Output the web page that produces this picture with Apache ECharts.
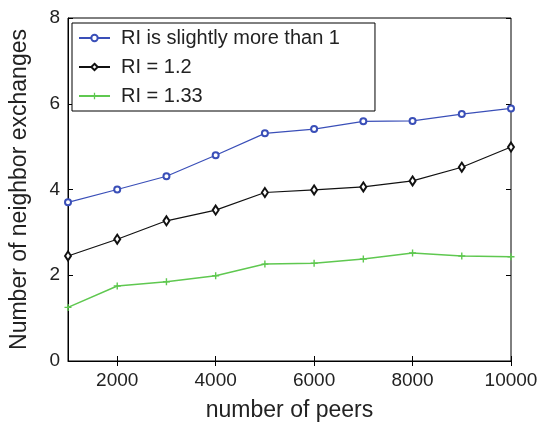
<!DOCTYPE html>
<html>
<head>
<meta charset="utf-8">
<script src="https://cdn.jsdelivr.net/npm/echarts@6/dist/echarts.min.js"></script>
<style>
  html, body { margin: 0; padding: 0; background: #fff; }
  #chart { width: 537px; height: 425px; }
</style>
</head>
<body>
<div id="chart"></div>
<script>
// data
const peers = [1000, 2000, 3000, 4000, 5000, 6000, 7000, 8000, 9000, 10000];
const riSlightly = [3.70, 4.00, 4.31, 4.80, 5.31, 5.41, 5.59, 5.60, 5.76, 5.89];
const ri12 = [2.45, 2.84, 3.27, 3.52, 3.93, 3.99, 4.06, 4.20, 4.52, 4.99];
const ri133 = [1.25, 1.75, 1.85, 1.99, 2.26, 2.28, 2.38, 2.52, 2.45, 2.43];
const xTicks = [2000, 4000, 6000, 8000, 10000];
const yTicks = [0, 2, 4, 6, 8];

const font = 'Liberation Sans, Arial, Helvetica, sans-serif';
const plus = 'path://M4,0L6,0L6,4L10,4L10,6L6,6L6,10L4,10L4,6L0,6L0,4L4,4Z';

function pairs(ys) {
  return peers.map((x, i) => [x, ys[i]]);
}

var chart = echarts.init(document.getElementById('chart'));

const tickIn = { show: true, inside: true, length: 5, lineStyle: { color: '#000' } };

chart.setOption({
  animation: false,
  grid: {
    left: 68, right: 26, top: 18, bottom: 64,
    outerBoundsMode: 'none', containLabel: false,
    show: true, borderColor: '#000', borderWidth: 1
  },
  xAxis: [
    {
      type: 'value', min: 1000, max: 10000,
      name: 'number of peers', nameLocation: 'middle', nameGap: 38,
      nameTextStyle: { fontSize: 23, color: '#222', fontFamily: font },
      axisLine: { show: true, lineStyle: { color: '#000' } },
      axisTick: Object.assign({ customValues: xTicks }, tickIn),
      axisLabel: {
        customValues: xTicks, fontSize: 19, color: '#222', fontFamily: font, margin: 10,
        formatter: v => String(v)
      },
      splitLine: { show: false }
    },
    {
      type: 'value', min: 1000, max: 10000, position: 'top',
      axisLine: { show: false },
      axisTick: Object.assign({ customValues: xTicks }, tickIn),
      axisLabel: { show: false },
      splitLine: { show: false }
    }
  ],
  yAxis: [
    {
      type: 'value', min: 0, max: 8, interval: 2,
      name: 'Number of neighbor exchanges', nameLocation: 'middle', nameGap: 37,
      nameTextStyle: { fontSize: 23, color: '#222', fontFamily: font },
      axisLine: { show: true, lineStyle: { color: '#000' } },
      axisTick: tickIn,
      axisLabel: { fontSize: 19, color: '#222', fontFamily: font, margin: 8 },
      splitLine: { show: false }
    },
    {
      type: 'value', min: 0, max: 8, interval: 2, position: 'right',
      axisLine: { show: false },
      axisTick: tickIn,
      axisLabel: { show: false },
      splitLine: { show: false }
    }
  ],
  legend: {
    orient: 'vertical', left: 72, top: 23,
    padding: [5, 35, 5, 6],
    itemGap: 9, itemWidth: 31, itemHeight: 8,
    backgroundColor: '#fff', borderColor: '#000', borderWidth: 1, borderRadius: 0,
    textStyle: { fontSize: 20, lineHeight: 20, color: '#222', fontFamily: font, padding: [0, 0, 0, 6] },
    data: ['RI is slightly more than 1', 'RI = 1.2', 'RI = 1.33']
  },
  series: [
    {
      name: 'RI is slightly more than 1', type: 'line', data: pairs(riSlightly),
      symbol: 'emptyCircle', symbolSize: 6,
      lineStyle: { color: '#3a4fb8', width: 1.2 },
      itemStyle: { color: '#3a4fb8', borderWidth: 1 }
    },
    {
      name: 'RI = 1.2', type: 'line', data: pairs(ri12),
      symbol: 'emptyDiamond', symbolSize: [6, 9],
      lineStyle: { color: '#111', width: 1.2 },
      itemStyle: { color: '#111', borderWidth: 1 }
    },
    {
      name: 'RI = 1.33', type: 'line', data: pairs(ri133),
      symbol: plus, symbolSize: 7,
      lineStyle: { color: '#5fc850', width: 1.5 },
      itemStyle: { color: '#5fc850' }
    }
  ]
});
</script>
</body>
</html>
